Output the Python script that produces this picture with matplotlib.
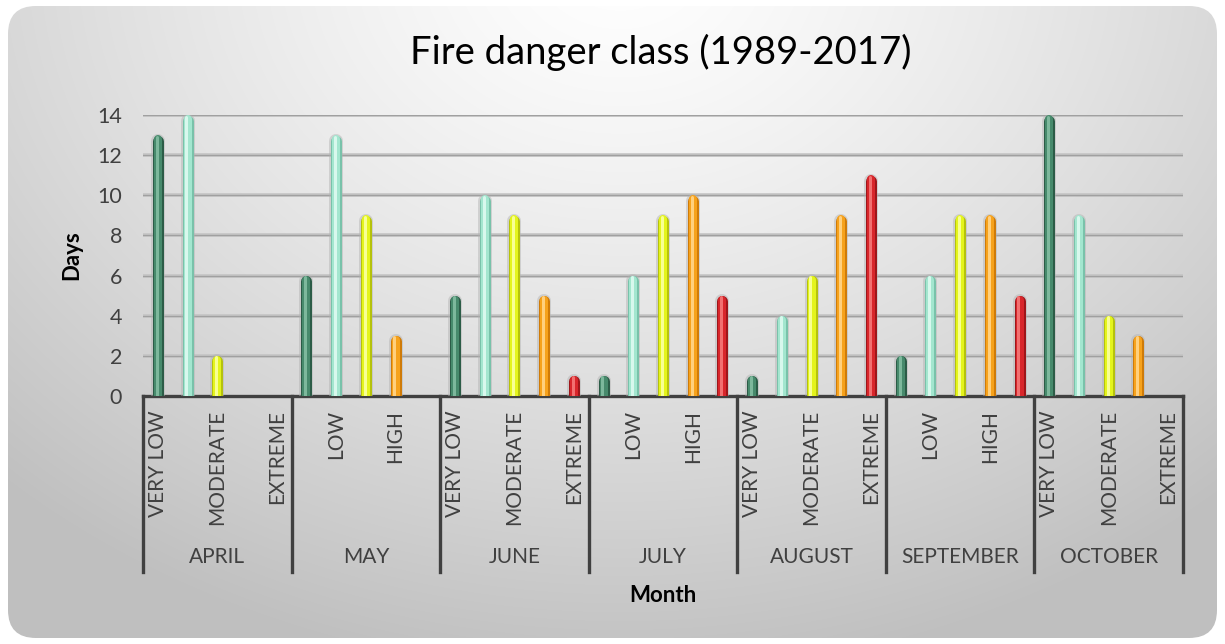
import numpy as np
import matplotlib
matplotlib.use("Agg")
import matplotlib.pyplot as plt
from matplotlib.patches import FancyBboxPatch
import matplotlib.transforms as mtransforms

plt.rcParams['font.family'] = ['Lato', 'DejaVu Sans']

# data
months = ['APRIL', 'MAY', 'JUNE', 'JULY', 'AUGUST', 'SEPTEMBER', 'OCTOBER']
classes = ['VERY LOW', 'LOW', 'MODERATE', 'HIGH', 'EXTREME']
days = {
    'APRIL':     [13, 14, 2, 0, 0],
    'MAY':       [6, 13, 9, 3, 0],
    'JUNE':      [5, 10, 9, 5, 1],
    'JULY':      [1, 6, 9, 10, 5],
    'AUGUST':    [1, 4, 6, 9, 11],
    'SEPTEMBER': [2, 6, 9, 9, 5],
    'OCTOBER':   [14, 9, 4, 3, 0],
}

# colours per class: edge, main, highlight
colors = {
    'VERY LOW': ('#2c5c47', '#478a6c', '#7db89c'),
    'LOW':      ('#79c2aa', '#a3e6cf', '#d8f8ed'),
    'MODERATE': ('#b5c20c', '#e4f41c', '#f8ff94'),
    'HIGH':     ('#cf7b08', '#f6a21c', '#ffd07e'),
    'EXTREME':  ('#9e161a', '#d8262b', '#f27070'),
}

W, H = 1225, 644
fig = plt.figure(figsize=(W / 100, H / 100), dpi=100)

# background panel with soft gradient
bg = fig.add_axes([0, 0, 1, 1])
bg.set_xlim(0, W)
bg.set_ylim(H, 0)
bg.axis('off')
yy, xx = np.mgrid[0:H, 0:W]
dist = np.sqrt(((xx - 620) / 1.0) ** 2 + ((yy + 40) * 1.25) ** 2)
shade = 1.0 - 0.25 * np.clip(dist / 900, 0, 1) ** 1.3
img = bg.imshow(np.dstack([shade] * 3), extent=(0, W, H, 0), zorder=0)
panel = FancyBboxPatch((8, 6), W - 16, H - 12,
                       boxstyle="round,pad=0,rounding_size=28",
                       transform=bg.transData, facecolor='none', edgecolor='none')
bg.add_patch(panel)
img.set_clip_path(panel)

# plot area
x0, x1, y0, y1 = 143, 1183, 396, 115
ax = fig.add_axes([x0 / W, 1 - y0 / H, (x1 - x0) / W, (y0 - y1) / H])
ax.patch.set_alpha(0)
n = len(months) * len(classes)
ax.set_xlim(-0.5, n - 0.5)
ax.set_ylim(0, 14)
px_per_unit = (y0 - y1) / 14.0

for v in range(2, 15, 2):
    ax.axhline(v, color='#c4c4c4', lw=2.6, zorder=1)
    ax.axhline(v, color='#a0a0a0', lw=0.9, zorder=1)

pt = 72.0 / 100
for gi, m in enumerate(months):
    for ci, c in enumerate(classes):
        val = days[m][ci]
        if val <= 0:
            continue
        x = gi * len(classes) + ci
        edge, main, hi = colors[c]
        for lw_px, col, dx in [(14, '#b0b0b0', 0.0), (11, edge, 0.0), (8, main, 0.0), (3, hi, -0.04)]:
            top = val - (lw_px / 2) / px_per_unit
            if lw_px == 14:
                top = val - (11 / 2) / px_per_unit
            ln = ax.vlines(x + dx, -1, top, colors=col, lw=lw_px * pt,
                           alpha=0.45 if lw_px == 14 else 1.0, zorder=3)
            ln.set_capstyle('round')

ax.set_yticks(range(0, 15, 2))
ax.tick_params(axis='y', length=0, pad=15, labelsize=15.5, labelcolor='#404040')
ticks = list(range(0, n, 2))
ax.set_xticks(ticks)
ax.set_xticklabels([classes[t % len(classes)] for t in ticks], rotation=90,
                   fontsize=15, color='#404040')
ax.tick_params(axis='x', length=0, pad=10)
for s in ['top', 'right', 'left']:
    ax.spines[s].set_visible(False)
ax.spines['bottom'].set_color('#404040')
ax.spines['bottom'].set_linewidth(2.4)

trans = mtransforms.blended_transform_factory(ax.transData, ax.transAxes)
sep_bottom = -(572 - y0) / (y0 - y1)
for k in range(len(months) + 1):
    xs = k * len(classes) - 0.5
    ax.plot([xs, xs], [0, sep_bottom], color='#404040', lw=2.4,
            transform=trans, clip_on=False, zorder=4)
for gi, m in enumerate(months):
    ax.text(gi * len(classes) + 2, -(557 - y0) / (y0 - y1), m, transform=trans,
            ha='center', va='center', fontsize=15, color='#404040')

ax.text(0.5, -(595 - y0) / (y0 - y1), 'Month', transform=ax.transAxes,
        ha='center', va='center', fontsize=16, fontweight='bold', color='black')
ax.text((72 - x0) / (x1 - x0), 0.5, 'Days', transform=ax.transAxes, rotation=90,
        ha='center', va='center', fontsize=16, fontweight='bold', color='black')

fig.text(661 / W, 1 - 52 / H, 'Fire danger class (1989-2017)', ha='center',
         va='center', fontsize=27.5, color='black')

fig.savefig('out.png', dpi=100)
